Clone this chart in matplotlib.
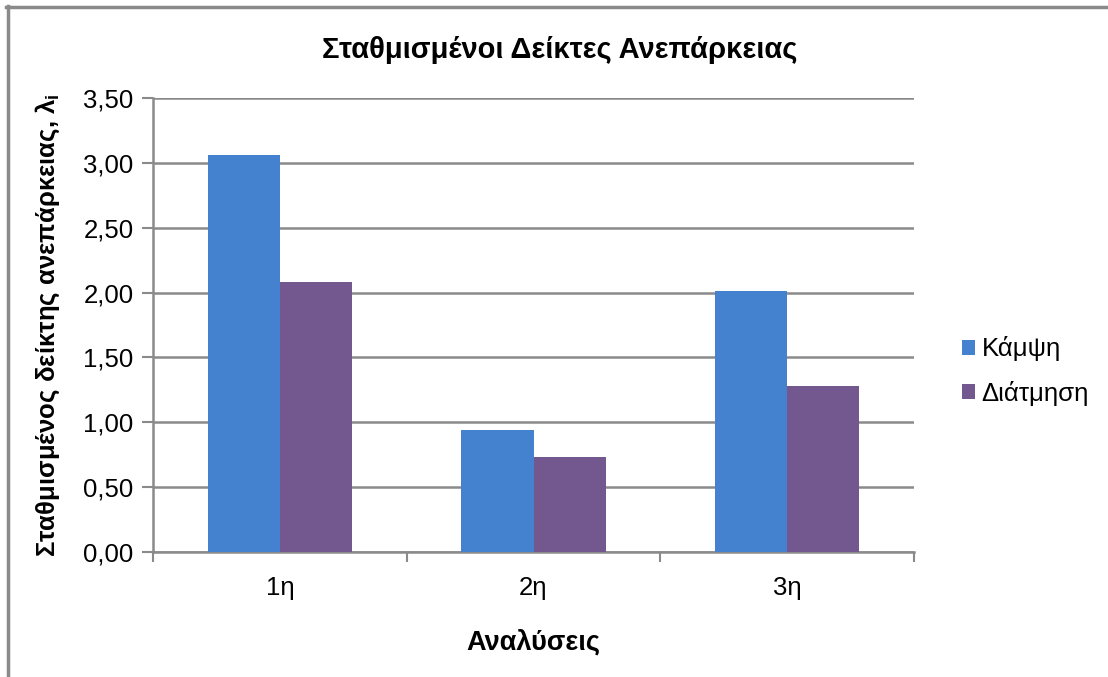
import numpy as np
import matplotlib.pyplot as plt
from matplotlib.lines import Line2D

plt.rcParams['font.family'] = ['Liberation Sans', 'DejaVu Sans']

# δεδομένα
analyses = ["1η", "2η", "3η"]
kampsi = [3.06, 0.94, 2.01]
diatmisi = [2.08, 0.73, 1.28]
yticks = [0.0, 0.5, 1.0, 1.5, 2.0, 2.5, 3.0, 3.5]

blue = '#4482d0'
purple = '#735890'
grid_c = '#8a8a8a'

W, H = 1108, 677
fig = plt.figure(figsize=(W / 100, H / 100), dpi=100)
ax = fig.add_axes([153 / W, 1 - 552 / H, (914 - 153) / W, (552 - 98) / H])

x = np.arange(len(analyses))
bw = 0.284
ax.bar(x - bw / 2, kampsi, bw, color=blue, label="Κάμψη", zorder=3)
ax.bar(x + bw / 2, diatmisi, bw, color=purple, label="Διάτμηση", zorder=3)

ax.set_xlim(-0.5, len(analyses) - 0.5)
ax.set_ylim(0, 3.5)
ax.set_yticks(yticks)
ax.set_yticklabels([f"{v:.2f}".replace(".", ",") for v in yticks], fontsize=18.5)
ax.set_xticks(x)
ax.set_xticklabels(analyses, fontsize=18.5)
ax.set_xticks(np.arange(len(analyses) + 1) - 0.5, minor=True)
ax.tick_params(axis='x', which='major', length=0, pad=17)
ax.tick_params(axis='x', which='minor', length=7, width=1.5, color=grid_c)
ax.tick_params(axis='y', length=8, width=1.5, color=grid_c, pad=6)

ax.yaxis.grid(True, color=grid_c, linewidth=1.8, zorder=0)
for s in ['top', 'right']:
    ax.spines[s].set_visible(False)
for s in ['left', 'bottom']:
    ax.spines[s].set_color(grid_c)
    ax.spines[s].set_linewidth(1.8)

ax.set_xlabel("Αναλύσεις", fontsize=19.5, fontweight='bold', labelpad=21)
ax.set_ylabel("Σταθμισμένος δείκτης ανεπάρκειας, λ$_\\mathregular{i}$",
              fontsize=18.5, fontweight='bold', labelpad=15)
fig.text(560 / W, 1 - 50 / H, "Σταθμισμένοι Δείκτες Ανεπάρκειας",
         ha='center', va='center', fontsize=21, fontweight='bold')

fig.legend(loc='center left', bbox_to_anchor=(952 / W, 1 - 371 / H),
           frameon=False, fontsize=18.5, handlelength=0.5, handleheight=0.5,
           handletextpad=0.25, labelspacing=0.75, borderaxespad=0)

# πλαίσιο γραφήματος
fig.add_artist(Line2D([7.5 / W, 7.5 / W], [0, 1 - 6 / H], color=grid_c, linewidth=2.5))
fig.add_artist(Line2D([6 / W, 1], [1 - 6.5 / H, 1 - 6.5 / H], color=grid_c, linewidth=2.5))

fig.savefig("out.png", dpi=100)
